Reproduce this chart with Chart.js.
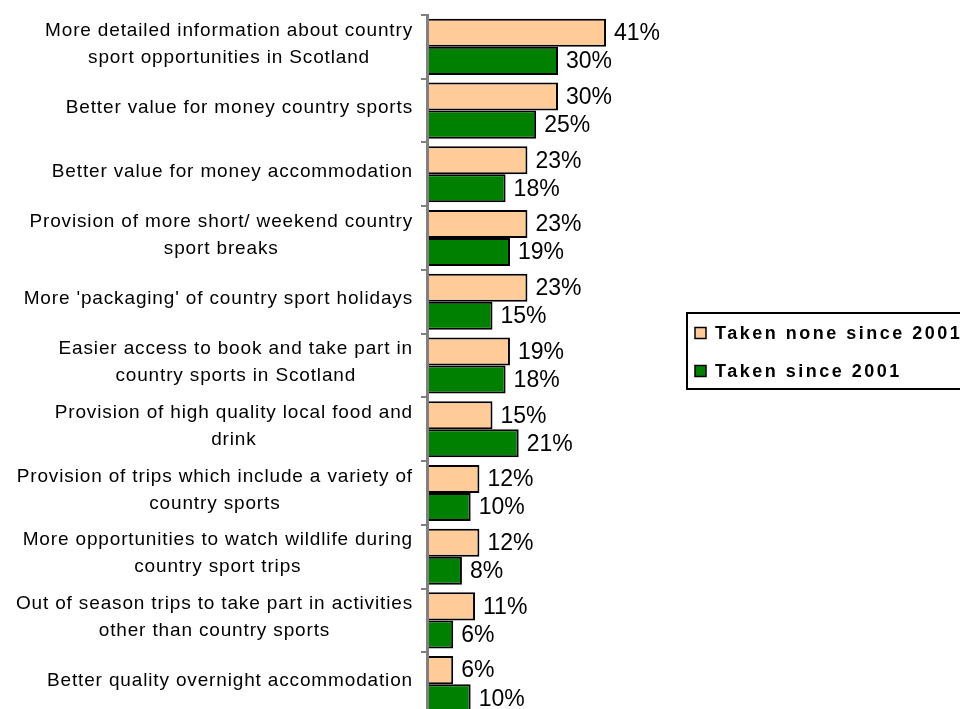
<!DOCTYPE html>
<html>
<head>
<meta charset="utf-8">
<script src="https://cdn.jsdelivr.net/npm/chart.js@4.4.1/dist/chart.umd.min.js"></script>
<style>
  html, body { margin: 0; padding: 0; background: #fff; overflow: hidden; }
  #wrap { position: relative; width: 960px; height: 718px; }
</style>
</head>
<body>
<div id="wrap"><canvas id="chart"></canvas></div>
<script>
// survey answers, one entry per row (each entry = wrapped label lines)
const categories = [
    ["More detailed information about country", "sport opportunities in Scotland"],
    ["Better value for money country sports"],
    ["Better value for money accommodation"],
    ["Provision of more short/ weekend country", "sport breaks"],
    ["More 'packaging' of country sport holidays"],
    ["Easier access to book and take part in", "country sports in Scotland"],
    ["Provision of high quality local food and", "drink"],
    ["Provision of trips which include a variety of", "country sports"],
    ["More opportunities to watch wildlife during", "country sport trips"],
    ["Out of season trips to take part in activities", "other than country sports"],
    ["Better quality overnight accommodation"]
]

const seriesNames = ["Taken none since 2001", "Taken since 2001"]
const noneSince2001 = [41, 30, 23, 23, 23, 19, 15, 12, 12, 11, 6]
const since2001 = [30, 25, 18, 19, 15, 18, 21, 10, 8, 6, 10]

const seriesColors = ["#FFCC99", "#008000"]
const axisGrey = "#808080"
const xMax = 60

const labelFont = '19px "Liberation Sans", Arial, sans-serif'
const valueFont = '23px "Liberation Sans", Arial, sans-serif'
const legendFont = 'bold 18px "Liberation Sans", Arial, sans-serif'

// value text next to the end of each bar
const valueLabels = {
    id: "valueLabels",
    afterDatasetsDraw(chart) {
        const ctx = chart.ctx
        ctx.save()
        ctx.font = valueFont
        ctx.fillStyle = "#000"
        ctx.textBaseline = "middle"
        ctx.textAlign = "left"
        chart.data.datasets.forEach((ds, di) => {
            chart.getDatasetMeta(di).data.forEach((bar, i) => {
                ctx.fillText(ds.data[i] + "%", bar.x + 8, bar.y + 1)
            })
        })
        ctx.restore()
    }
}

// category text: block sits right against the axis, lines centred inside it
const categoryLabels = {
    id: "categoryLabels",
    afterDraw(chart) {
        const scale = chart.scales.y
        const ctx = chart.ctx
        const right = scale.right - 14
        const lineHeight = 27
        ctx.save()
        ctx.font = labelFont
        ctx.letterSpacing = "0.85px"
        ctx.fillStyle = "#000"
        ctx.textAlign = "center"
        ctx.textBaseline = "middle"
        categories.forEach((lines, i) => {
            const y = scale.getPixelForTick(i) - 3
            const w = Math.max(...lines.map(l => ctx.measureText(l).width))
            const cx = right - w / 2
            lines.forEach((l, j) => {
                ctx.fillText(l, cx, y + (j - (lines.length - 1) / 2) * lineHeight)
            })
        })
        ctx.restore()
    }
}

// boxed legend to the right of the plot
const boxLegend = {
    id: "boxLegend",
    afterDraw(chart) {
        const ctx = chart.ctx
        const x = chart.chartArea.right - 2
        const top = 313
        ctx.save()
        ctx.strokeStyle = "#000"
        ctx.lineWidth = 2
        ctx.strokeRect(x, top, 320, 76)
        ctx.font = legendFont
        ctx.letterSpacing = "2.5px"
        ctx.textBaseline = "middle"
        seriesNames.forEach((name, i) => {
            const cy = top + 20 + i * 38
            ctx.fillStyle = seriesColors[i]
            ctx.fillRect(x + 8, cy - 5.5, 11, 11)
            ctx.lineWidth = 1.5
            ctx.strokeRect(x + 8, cy - 5.5, 11, 11)
            ctx.fillStyle = "#000"
            ctx.fillText(name, x + 28, cy + 1)
        })
        ctx.restore()
    }
}

const ctx = document.getElementById("chart").getContext("2d")

new Chart(ctx, {
    type: "bar",
    data: {
        labels: categories,
        datasets: seriesNames.map((label, i) => ({
            label,
            data: [noneSince2001, since2001][i],
            backgroundColor: seriesColors[i],
            borderColor: "#000",
            borderWidth: 2,
            categoryPercentage: 0.88,
            barPercentage: 1
        }))
    },
    options: {
        indexAxis: "y",
        responsive: true,
        maintainAspectRatio: false,
        animation: false,
        devicePixelRatio: 1,
        layout: { padding: { top: 15, right: 271, bottom: 2, left: 0 } },
        scales: {
            x: { display: false, min: 0, max: xMax },
            y: {
                grid: {
                    display: true,
                    drawOnChartArea: false,
                    drawTicks: true,
                    tickLength: 6,
                    offset: true,
                    color: axisGrey,
                    lineWidth: 2,
                    z: 1
                },
                // axis line sits on top of the bars' left edges
                border: { display: true, color: axisGrey, width: 3, z: 1 },
                ticks: { display: false },
                afterFit: s => { s.width = 427 }
            }
        },
        plugins: {
            legend: { display: false },
            tooltip: { enabled: false }
        }
    },
    plugins: [valueLabels, categoryLabels, boxLegend]
})
</script>
</body>
</html>
